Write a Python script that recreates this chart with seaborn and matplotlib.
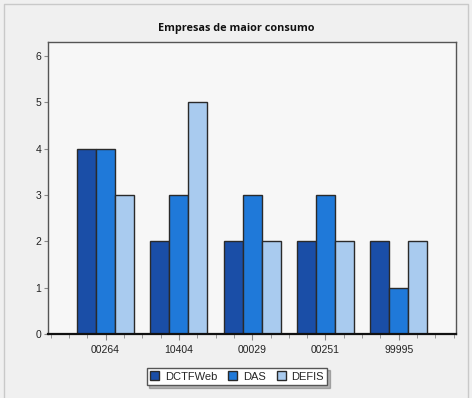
import numpy as np
import pandas as pd
import matplotlib
matplotlib.use('Agg')
import matplotlib.pyplot as plt
import seaborn as sns
from matplotlib.lines import Line2D
from matplotlib.ticker import MultipleLocator

sns.set_style('white')
plt.rcParams['font.family'] = ['Liberation Sans', 'DejaVu Sans']

#%% Data
empresas = ['00264', '10404', '00029', '00251', '99995']
dctfweb = [4, 2, 2, 2, 2]
das = [4, 3, 3, 3, 1]
defis = [3, 5, 2, 2, 2]
series_names = ['DCTFWeb', 'DAS', 'DEFIS']
colors = ['#1a4ea7', '#1f79d9', '#a9cbef']

df = pd.DataFrame({
    'Empresa': empresas * 3,
    'Serie': np.repeat(series_names, len(empresas)),
    'Valor': dctfweb + das + defis,
})

#%% Plot
fig = plt.figure(figsize=(4.72, 3.98), dpi=100)
fig.patch.set_facecolor('#f0f0f0')

# outer panel frame (top, left, right)
x0, x1, y1 = 3.5 / 472, 467.5 / 472, 1 - 3.5 / 398
fig.lines.append(Line2D([x0, x0, x1, x1], [0, y1, y1, 0],
                        transform=fig.transFigure, color='#c9c9c9', linewidth=1.0))

ax = fig.add_axes([48 / 472, 1 - 334 / 398, 408 / 472, 292 / 398])
ax.set_facecolor('#f7f7f7')

sns.barplot(data=df, x='Empresa', y='Valor', hue='Serie', order=empresas,
            hue_order=series_names, palette=colors, saturation=1,
            width=0.78, edgecolor='#2a2a2a', linewidth=1.0, ax=ax)

ax.set_xlim(-0.785, 4.78)
ax.set_ylim(0, 6.3)
ax.set_yticks(range(0, 7))
ax.xaxis.set_minor_locator(MultipleLocator(0.25))
ax.set_xlabel('')
ax.set_ylabel('')
ax.tick_params(axis='x', which='major', length=4, color='#888888',
               labelsize=7.5, labelcolor='#222222', pad=4)
ax.tick_params(axis='x', which='minor', length=3, color='#888888')
ax.tick_params(axis='y', length=3, color='#888888', labelsize=7.5,
               labelcolor='#222222', pad=2, left=True)
ax.tick_params(axis='x', bottom=True, which='both')

for side in ['top', 'right', 'left']:
    ax.spines[side].set_color('#555555')
    ax.spines[side].set_linewidth(1.0)
ax.spines['bottom'].set_color('#111111')
ax.spines['bottom'].set_linewidth(1.6)

fig.text(0.5, 1 - 29 / 398, 'Empresas de maior consumo', ha='center', va='center',
         fontsize=7.8, fontweight='bold', color='#111111',
         family=['Open Sans', 'DejaVu Sans'])

handles, labels = ax.get_legend_handles_labels()
ax.get_legend().remove()
leg = fig.legend(handles, labels, ncol=3, loc='center',
                 bbox_to_anchor=(237 / 472, 1 - 376.5 / 398),
                 fontsize=8, frameon=True, fancybox=False,
                 shadow={'ox': 2, 'oy': -2, 'alpha': 0.35, 'color': '#444444'},
                 edgecolor='#555555', handlelength=0.8, handleheight=0.8,
                 handletextpad=0.5, columnspacing=1.0, borderpad=0.35)
leg.get_frame().set_facecolor('white')
leg.get_frame().set_linewidth(1.0)

fig.savefig('out.png', dpi=100, facecolor=fig.get_facecolor())
